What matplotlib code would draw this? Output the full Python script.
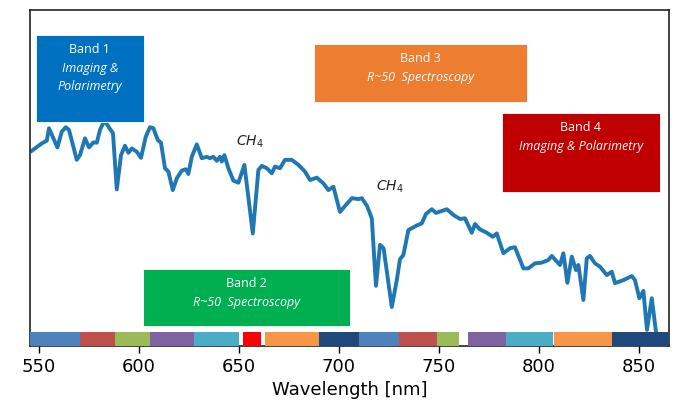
import matplotlib
matplotlib.use("Agg")
import matplotlib.pyplot as plt
from matplotlib.patches import Rectangle

# spectrum (wavelength in nm, relative flux)
wavelength = [546.4, 551.4, 553.9, 555.0, 559.2, 561.4, 563.4, 565.0, 568.9, 570.5,
              573.0, 575.0, 577.2, 578.9, 580.5, 582.7, 584.7, 587.0, 588.9, 591.0,
              593.0, 594.7, 596.4, 598.9, 601.0, 603.4, 605.5, 607.2, 609.4, 611.0,
              613.0, 614.7, 616.9, 618.9, 621.4, 623.4, 624.7, 626.4, 628.9, 631.4,
              633.9, 635.5, 637.2, 638.9, 640.5, 641.4, 642.7, 644.7, 647.2, 649.7,
              652.7, 656.9, 659.7, 661.4, 663.9, 666.4, 668.0, 670.5, 673.0, 676.4,
              679.7, 683.0, 685.5, 688.9, 692.2, 694.7, 697.2, 700.5, 703.5, 706.5,
              709.7, 711.4, 714.0, 716.4, 718.5, 720.5, 722.3, 726.4, 728.9, 730.5,
              732.2, 734.7, 739.0, 741.4, 743.5, 746.4, 748.5, 753.9, 757.2, 760.5,
              763.0, 766.4, 768.0, 770.5, 773.9, 776.9, 778.9, 782.2, 785.5, 788.0,
              792.2, 794.7, 798.0, 801.4, 804.7, 806.4, 810.5, 812.2, 814.2, 816.4,
              818.5, 819.7, 822.2, 823.9, 825.5, 828.0, 830.5, 833.9, 836.4, 838.0,
              842.2, 846.4, 848.0, 850.2, 852.2, 854.0, 856.4, 859.0]
flux = [0.581, 0.603, 0.611, 0.648, 0.591, 0.638, 0.651, 0.643, 0.554, 0.568,
        0.618, 0.591, 0.606, 0.605, 0.643, 0.671, 0.653, 0.633, 0.466, 0.568,
        0.596, 0.575, 0.588, 0.578, 0.560, 0.623, 0.651, 0.648, 0.613, 0.605,
        0.529, 0.519, 0.464, 0.499, 0.522, 0.526, 0.512, 0.563, 0.600, 0.559,
        0.563, 0.559, 0.563, 0.551, 0.563, 0.549, 0.568, 0.529, 0.492, 0.486,
        0.539, 0.335, 0.524, 0.536, 0.529, 0.514, 0.534, 0.529, 0.554, 0.554,
        0.539, 0.519, 0.494, 0.501, 0.484, 0.464, 0.474, 0.399, 0.420, 0.440,
        0.437, 0.440, 0.417, 0.380, 0.179, 0.301, 0.291, 0.116, 0.196, 0.258,
        0.271, 0.345, 0.359, 0.365, 0.393, 0.407, 0.396, 0.407, 0.390, 0.378,
        0.380, 0.337, 0.363, 0.347, 0.337, 0.325, 0.335, 0.276, 0.291, 0.294,
        0.231, 0.231, 0.246, 0.248, 0.256, 0.268, 0.241, 0.276, 0.188, 0.266,
        0.226, 0.241, 0.137, 0.261, 0.268, 0.246, 0.236, 0.211, 0.221, 0.187,
        0.196, 0.208, 0.196, 0.142, 0.164, 0.048, 0.142, 0.018]

# filter strip along the bottom
filt_start = [545.5, 570.5, 588.0, 605.7, 627.3, 651.8, 663.2, 689.8, 710.2, 730.0,
              749.2, 764.3, 783.3, 807.3, 836.7]
filt_end = [570.5, 588.0, 605.7, 627.3, 650.2, 660.8, 689.8, 710.2, 730.0, 749.2,
            760.0, 783.3, 806.8, 836.7, 865.0]
filt_colors = ['#4F81BD', '#C0504D', '#9BBB59', '#8064A2', '#4BACC6', '#FF0000',
               '#F79646', '#1F497D', '#4F81BD', '#C0504D', '#9BBB59', '#8064A2',
               '#4BACC6', '#F79646', '#1F497D']

# band boxes: x0, x1, y0, y1, color, title, subtitle lines
bands = [
    (548.4, 602.5, 0.666, 0.926, '#0070C0', 'Band 1', ['Imaging &', 'Polarimetry']),
    (602.2, 705.5, 0.060, 0.229, '#00B050', 'Band 2', ['R~50  Spectroscopy']),
    (687.5, 794.2, 0.727, 0.899, '#ED7D31', 'Band 3', ['R~50  Spectroscopy']),
    (781.4, 860.5, 0.457, 0.694, '#C00000', 'Band 4', ['Imaging & Polarimetry']),
]

fig = plt.figure(figsize=(6.8, 4.11), dpi=100)
ax = fig.add_axes([0.0441, 0.1582, 0.9397, 0.8175])

ax.plot(wavelength, flux, color='#1F77B4', lw=2.8, zorder=2)

widths = [e - s for s, e in zip(filt_start, filt_end)]
ax.bar(filt_start, 0.042, width=widths, align='edge', bottom=0,
       color=filt_colors, edgecolor='none', zorder=3)

for x0, x1, y0, y1, col, title, sub in bands:
    ax.add_patch(Rectangle((x0, y0), x1 - x0, y1 - y0, facecolor=col,
                           edgecolor='#ffffff', lw=0.6, zorder=4))
    xc = (x0 + x1) / 2
    ax.text(xc, y1 - 0.044, title, ha='center', va='center', color='white',
            fontsize=9, family='Open Sans', zorder=5)
    for i, line in enumerate(sub):
        ax.text(xc, y1 - 0.099 - i * 0.0536, line, ha='center', va='center',
                color='white', fontsize=9, family='Open Sans', style='italic',
                zorder=5)

ax.text(655.5, 0.608, r'$CH_4$', ha='center', va='center', fontsize=10, color='#222222')
ax.text(725.2, 0.474, r'$CH_4$', ha='center', va='center', fontsize=10, color='#222222')

ax.set_xlim(545.5, 865)
ax.set_ylim(0, 1)
ax.set_xticks([550, 600, 650, 700, 750, 800, 850])
ax.set_yticks([])
ax.tick_params(axis='x', labelsize=13, length=5, width=1)
ax.set_xlabel('Wavelength [nm]', fontsize=13, labelpad=4)
for s in ax.spines.values():
    s.set_linewidth(1.2)
    s.set_color('#222222')

fig.savefig('out.png', dpi=100)
